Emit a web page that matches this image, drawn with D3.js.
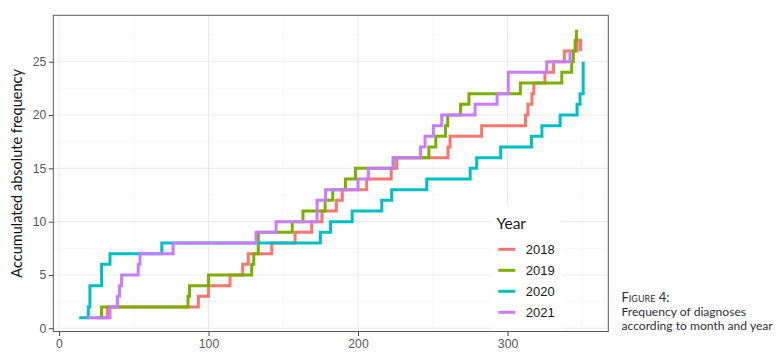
<!DOCTYPE html>
<html>
<head>
<meta charset="utf-8">
<script src="https://cdn.jsdelivr.net/npm/d3@7"></script>
<style>
  html, body { margin: 0; padding: 0; background: #ffffff; }
  svg { display: block; }
</style>
</head>
<body>
<svg id="chart" width="782" height="361"></svg>
<script>
// ---------- data ----------
const years = ["2018", "2019", "2020", "2021"];
const colors = ["#F8766D", "#7CAE00", "#00BFC4", "#C77CFF"];

const days2018 = [29, 32.4, 93.2, 100, 114.4, 122.9, 126.6, 142.3, 157.9, 169, 175.9, 185.5, 189.5, 205.8, 222.2, 225.9, 260.2, 261.6, 282.7, 312, 313.6, 316.3, 317.6, 325, 330.8, 338, 346.5, 348.8];
const freq2018 = [1, 2, 3, 4, 5, 6, 7, 8, 9, 10, 11, 12, 13, 14, 15, 16, 17, 18, 19, 20, 21, 22, 23, 24, 25, 26, 27, 26];

const days2019 = [25, 28.5, 86.3, 87.3, 100, 128.9, 130.3, 133.3, 156, 163.2, 178, 183.1, 191.6, 198.3, 223.5, 247.4, 252, 258.5, 260, 268.6, 274.2, 308.6, 336.3, 342.9, 344, 345.2, 346.1];
const freq2019 = [1, 2, 3, 4, 5, 6, 7, 9, 10, 11, 12, 13, 14, 15, 16, 17, 18, 19, 20, 21, 22, 23, 24, 25, 26, 27, 28];

const days2020 = [13.5, 19.6, 20.7, 28.5, 34.1, 68.8, 174.8, 181.6, 196.1, 215.9, 222.5, 246, 275, 279.4, 295.4, 316, 323, 335.2, 346.5, 348.5, 350.6];
const freq2020 = [1, 2, 4, 6, 7, 8, 9, 10, 11, 12, 13, 14, 15, 16, 17, 18, 19, 20, 21, 22, 25];

const days2021 = [18.5, 34.1, 39.1, 40.5, 41.9, 53, 54.2, 76.3, 131.8, 145.2, 172.6, 178.3, 200, 206.9, 223.6, 241.8, 244.8, 250.4, 256, 278.3, 293, 300.5, 326.2, 341.8];
const freq2021 = [1, 2, 3, 4, 5, 6, 7, 8, 9, 10, 12, 13, 14, 15, 16, 17, 18, 19, 20, 21, 22, 24, 25, 26];

const xTicks = [0, 100, 200, 300];
const xMinor = [50, 150, 250, 350];
const yTicks = [0, 5, 10, 15, 20, 25];
const yMinor = [2.5, 7.5, 12.5, 17.5, 22.5, 27.5];

const yTitle = "Accumulated absolute frequency";
const legendTitle = "Year";
const captionHead = "Figure 4:";
const captionLines = ["Frequency of diagnoses", "according to month and year"];

// ---------- layout ----------
const panel = { left: 53.3, right: 608.3, top: 15.3, bottom: 331.5 };

const x = d3.scaleLinear().domain([-3.8, 367.4]).range([panel.left, panel.right]);
const y = d3.scaleLinear().domain([-0.3, 29.35]).range([panel.bottom, panel.top]);

const svg = d3.select("#chart");

// grid
const grid = svg.append("g");
grid.selectAll(".xmin").data(xMinor).join("line")
  .attr("x1", d => x(d)).attr("x2", d => x(d))
  .attr("y1", panel.top).attr("y2", panel.bottom)
  .attr("stroke", "#F2F2F2").attr("stroke-width", 0.6);
grid.selectAll(".ymin").data(yMinor).join("line")
  .attr("y1", d => y(d)).attr("y2", d => y(d))
  .attr("x1", panel.left).attr("x2", panel.right)
  .attr("stroke", "#F2F2F2").attr("stroke-width", 0.6);
grid.selectAll(".xmaj").data(xTicks).join("line")
  .attr("x1", d => x(d)).attr("x2", d => x(d))
  .attr("y1", panel.top).attr("y2", panel.bottom)
  .attr("stroke", "#EBEBEB").attr("stroke-width", 1.1);
grid.selectAll(".ymaj").data(yTicks).join("line")
  .attr("y1", d => y(d)).attr("y2", d => y(d))
  .attr("x1", panel.left).attr("x2", panel.right)
  .attr("stroke", "#EBEBEB").attr("stroke-width", 1.1);

// series
const series = [
  { year: years[0], days: days2018, freq: freq2018, color: colors[0] },
  { year: years[1], days: days2019, freq: freq2019, color: colors[1] },
  { year: years[2], days: days2020, freq: freq2020, color: colors[2] },
  { year: years[3], days: days2021, freq: freq2021, color: colors[3] }
];

const line = d3.line()
  .x(d => x(d[0]))
  .y(d => y(d[1]))
  .curve(d3.curveStepAfter);

svg.append("g").selectAll("path").data(series).join("path")
  .attr("d", s => line(s.days.map((dd, i) => [dd, s.freq[i]])))
  .attr("fill", "none")
  .attr("stroke", s => s.color)
  .attr("stroke-width", 3)
  .attr("stroke-linejoin", "miter")
  .attr("stroke-linecap", "butt");

// legend (inside panel)
const lg = svg.append("g");
lg.append("rect")
  .attr("x", 491.5).attr("y", 206).attr("width", 71).attr("height", 122.5)
  .attr("fill", "#ffffff");
lg.append("text")
  .attr("x", 496.5).attr("y", 228.5)
  .attr("font-family", "Lato, 'Open Sans', sans-serif")
  .attr("font-size", 15.5)
  .attr("fill", "#1a1a1a")
  .text(legendTitle);
const rowY = d3.scalePoint().domain(years).range([249.3, 312.3]);
lg.selectAll(".key").data(series).join("line")
  .attr("x1", 498.3).attr("x2", 515.2)
  .attr("y1", s => rowY(s.year)).attr("y2", s => rowY(s.year))
  .attr("stroke", s => s.color).attr("stroke-width", 3);
lg.selectAll(".lab").data(series).join("text")
  .attr("x", 525.7).attr("y", s => rowY(s.year) + 4.6)
  .attr("font-family", "'Liberation Sans', Arial, sans-serif")
  .attr("font-size", 13)
  .attr("fill", "#1a1a1a")
  .text(s => s.year);

// panel border
svg.append("rect")
  .attr("x", panel.left).attr("y", panel.top)
  .attr("width", panel.right - panel.left).attr("height", panel.bottom - panel.top)
  .attr("fill", "none").attr("stroke", "#5a5a5a").attr("stroke-width", 1);

// axes
const xAxis = d3.axisBottom(x).tickValues(xTicks).tickSize(4.5).tickPadding(3);
const gx = svg.append("g").attr("transform", `translate(0,${panel.bottom})`).call(xAxis);
const yAxis = d3.axisLeft(y).tickValues(yTicks).tickSize(4.5).tickPadding(2.5);
const gy = svg.append("g").attr("transform", `translate(${panel.left},0)`).call(yAxis);
[gx, gy].forEach(g => {
  g.select(".domain").remove();
  g.selectAll(".tick line").attr("stroke", "#444").attr("stroke-width", 1);
  g.selectAll(".tick text")
    .attr("font-family", "'Liberation Sans', Arial, sans-serif")
    .attr("font-size", 12.2)
    .attr("fill", "#555555");
});

// y title
svg.append("text")
  .attr("transform", `translate(21.5,${(panel.top + panel.bottom) / 2}) rotate(-90)`)
  .attr("text-anchor", "middle")
  .attr("font-family", "Lato, 'Open Sans', sans-serif")
  .attr("font-size", 14.5)
  .attr("fill", "#111")
  .text(yTitle);

// caption
const cap = svg.append("g")
  .attr("font-family", "Lato, 'Open Sans', sans-serif")
  .attr("fill", "#2e2e38");
cap.append("text")
  .attr("x", 621.5).attr("y", 301.5)
  .attr("font-size", 13)
  .attr("font-variant", "small-caps")
  .text(captionHead);
cap.selectAll(".cl").data(captionLines).join("text")
  .attr("x", 621.5).attr("y", (d, i) => 315.5 + i * 14.5)
  .attr("font-size", 12.1)
  .text(d => d);
</script>
</body>
</html>
